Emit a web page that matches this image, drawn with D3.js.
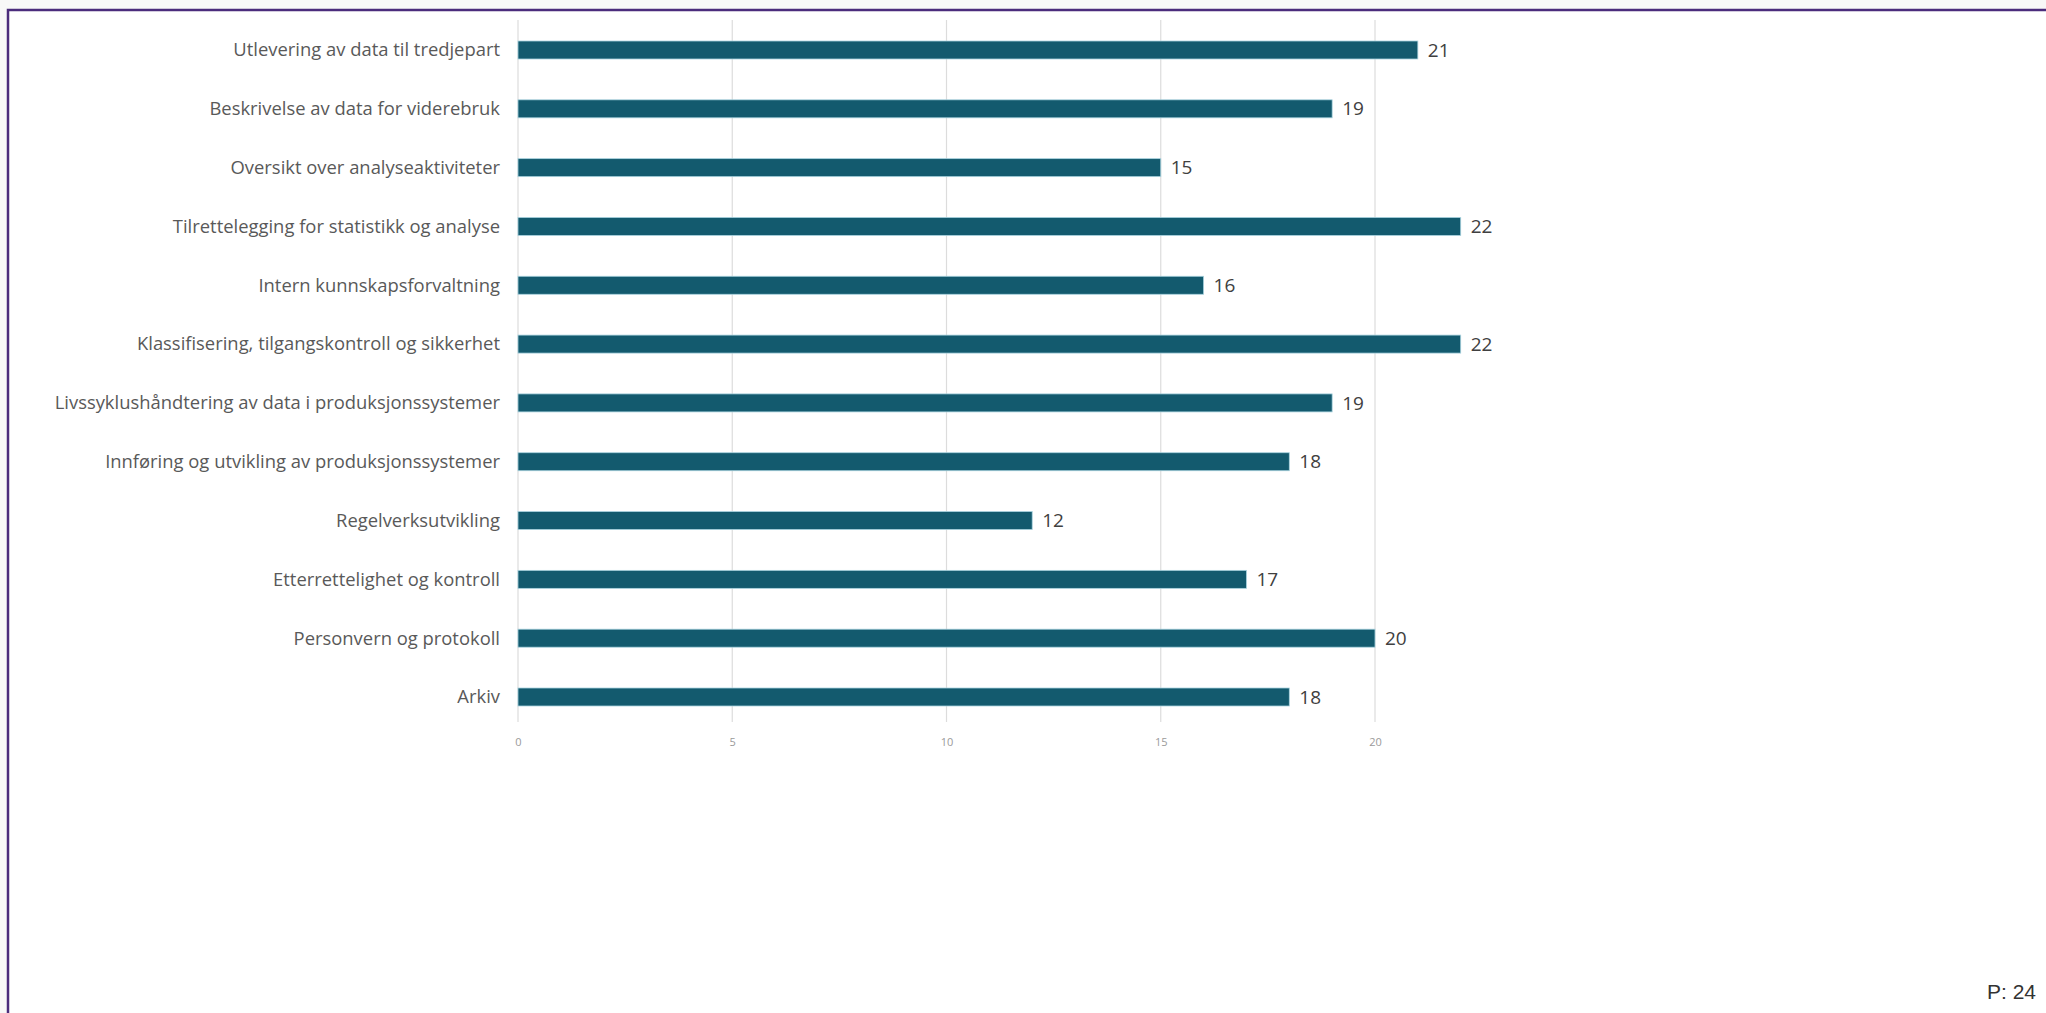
<!DOCTYPE html>
<html><head><meta charset="utf-8">
<script src="https://cdn.jsdelivr.net/npm/d3@7"></script>
<style>html,body{margin:0;padding:0;background:#f8f8f8;overflow:hidden}</style>
</head><body>
<svg id="c" width="2046" height="1013"></svg>
<script>
const categories = [
  "Utlevering av data til tredjepart",
  "Beskrivelse av data for viderebruk",
  "Oversikt over analyseaktiviteter",
  "Tilrettelegging for statistikk og analyse",
  "Intern kunnskapsforvaltning",
  "Klassifisering, tilgangskontroll og sikkerhet",
  "Livssyklushåndtering av data i produksjonssystemer",
  "Innføring og utvikling av produksjonssystemer",
  "Regelverksutvikling",
  "Etterrettelighet og kontroll",
  "Personvern og protokoll",
  "Arkiv"
];
const values = [21, 19, 15, 22, 16, 22, 19, 18, 12, 17, 20, 18];
const tickValues = [0, 5, 10, 15, 20];
const footnote = "P: 24";

const svg = d3.select("#c");
svg.append("rect").attr("x", 8).attr("y", 10).attr("width", 2200).attr("height", 1200)
  .attr("fill", "#ffffff").attr("stroke", "#4b2c7c").attr("stroke-width", 2.5);

const x = d3.scaleLinear().domain([0, 20]).range([518, 1375]);
const y = d3.scalePoint().domain(categories).range([50, 697]);
const barH = 18;

// gridlines
svg.append("g").selectAll("line").data(tickValues).join("line")
  .attr("x1", d => x(d)).attr("x2", d => x(d))
  .attr("y1", 20).attr("y2", 722)
  .attr("stroke", "#dcdcdc").attr("stroke-width", 1.2);

// x axis tick labels
const xAxis = d3.axisBottom(x).tickValues(tickValues).tickSize(0).tickPadding(0);
const gx = svg.append("g").attr("transform", "translate(0,738)").call(xAxis);
gx.select(".domain").remove();
gx.selectAll("text").attr("font-family", "'Open Sans', sans-serif").attr("font-size", 11)
  .attr("fill", "#9a9a9a");

// bars
svg.append("g").selectAll("rect").data(values).join("rect")
  .attr("x", x(0))
  .attr("y", (d, i) => y(categories[i]) - barH / 2)
  .attr("width", d => x(d) - x(0))
  .attr("height", barH)
  .attr("fill", "#135a6e")
  .attr("stroke", "#a9d3df").attr("stroke-width", 0.8);

// value labels
svg.append("g").selectAll("text").data(values).join("text")
  .attr("x", d => x(d) + 10)
  .attr("y", (d, i) => y(categories[i]))
  .attr("dy", "0.35em")
  .attr("font-family", "'Open Sans', sans-serif").attr("font-size", 19)
  .attr("fill", "#404040")
  .text(d => d);

// category labels
const yAxis = d3.axisLeft(y).tickSize(0).tickPadding(0);
const gy = svg.append("g").attr("transform", "translate(500,0)").call(yAxis);
gy.select(".domain").remove();
gy.selectAll("text").attr("font-family", "'Open Sans', sans-serif").attr("font-size", 18.4)
  .attr("fill", "#595959");

svg.append("text").attr("x", 2036).attr("y", 999).attr("text-anchor", "end")
  .attr("font-family", "'Liberation Sans', Arial, sans-serif").attr("font-size", 21)
  .attr("fill", "#333333").text(footnote);
</script>
</body></html>
